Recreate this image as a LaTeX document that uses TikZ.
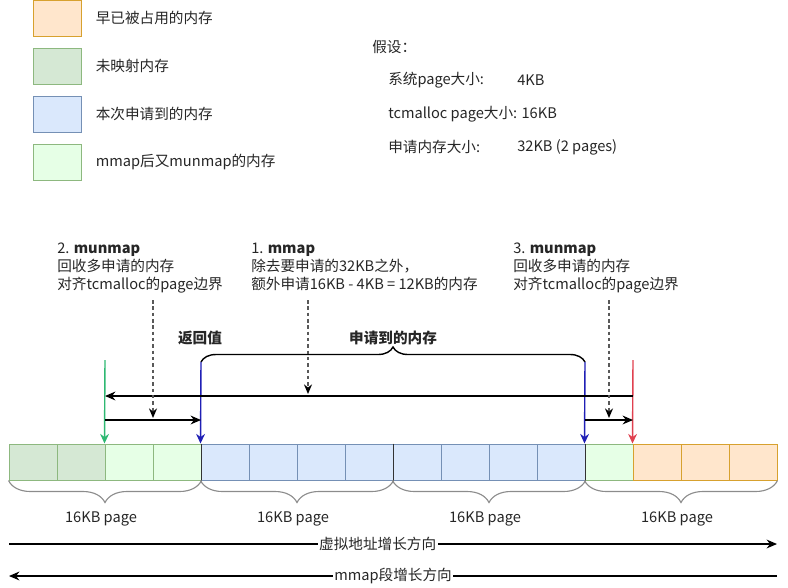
\documentclass[tikz,border=0pt]{standalone}
\usepackage{fontspec}
\setmainfont{Noto Sans CJK SC}
\usetikzlibrary{positioning,arrows.meta,decorations.pathreplacing}
\definecolor{occfill}{HTML}{FFE6CC}
\definecolor{occline}{HTML}{D7A12E}
\definecolor{unmfill}{HTML}{D5E8D4}
\definecolor{unmline}{HTML}{8DB87F}
\definecolor{gotfill}{HTML}{DAE8FC}
\definecolor{gotline}{HTML}{7590B5}
\definecolor{frefill}{HTML}{E6FFE6}
\definecolor{cgreen}{HTML}{2EB872}
\definecolor{cblue}{HTML}{1F1FB5}
\definecolor{cred}{HTML}{E0404F}
\tikzset{
  cell/.style={draw, minimum width=1.2cm, minimum height=0.9cm, inner sep=0pt, line width=0.7pt},
  occupied/.style={cell, fill=occfill, draw=occline},
  unmapped/.style={cell, fill=unmfill, draw=unmline},
  got/.style={cell, fill=gotfill, draw=gotline},
  freed/.style={cell, fill=frefill, draw=unmline},
  txt/.style={font=\fontsize{10.4}{12.6}\selectfont, inner sep=0pt, text=black!85},
  note/.style={txt, align=left, anchor=north west},
  sig/.style={-{Stealth[length=2.6mm,width=2.2mm]}, line width=1pt},
  hint/.style={-{Stealth[length=2.4mm,width=2mm,black]}, draw=black!65, line width=1pt, dash pattern=on 2.5pt off 2pt},
  bound/.style={-{Stealth[length=2.4mm,width=2.2mm]}, line width=1pt},
  pagebrace/.style={decorate, decoration={brace, amplitude=0.55cm}, draw=black!45, line width=0.8pt},
}
\begin{document}
\begin{tikzpicture}[x=0.025cm, y=-0.025cm]
  \useasboundingbox (0,0) rectangle (788,587);

  % legend
  \node[occupied] (lg1) at (57,18) {};
  \node[unmapped] (lg2) at (57,66) {};
  \node[got] (lg3) at (57,114) {};
  \node[freed] (lg4) at (57,162) {};
  \node[txt, right=0.35cm of lg1] {早已被占用的内存};
  \node[txt, right=0.35cm of lg2] {未映射内存};
  \node[txt, right=0.35cm of lg3] {本次申请到的内存};
  \node[txt, right=0.35cm of lg4] {mmap后又munmap的内存};

  % assumptions
  \node[txt, anchor=west] (as0) at (372,47) {假设：};
  \node[txt, anchor=west] (as1) at (388,80) {系统page大小:};
  \node[txt, anchor=west] at (517,80) {4KB};
  \node[txt, anchor=west] (as2) at (388,114) {tcmalloc page大小: 16KB};
  \node[txt, anchor=west] (as3) at (388,147) {申请内存大小:};
  \node[txt, anchor=west] at (517,147) {32KB (2 pages)};

  % memory cells
  \foreach \i/\kind in {0/unmapped,1/unmapped,2/freed,3/freed,4/got,5/got,6/got,7/got,
                        8/got,9/got,10/got,11/got,12/freed,13/occupied,14/occupied,15/occupied}
    \node[\kind] (c\i) at (33+48*\i,462) {};
  \foreach \j in {3,7,11}
    \draw[black!80, line width=0.9pt] (c\j.north east) -- (c\j.south east);

  % 16KB pages
  \foreach \a/\b/\k in {3/0/1,7/4/2,11/8/3,15/12/4}
    \draw[pagebrace] (c\a.south east) -- (c\b.south west);
  \foreach \k/\x in {1/101,2/293,3/485,4/677}
    \node[txt] (pg\k) at (\x,519) {16KB page};

  % steps
  \node[note] (n2) at (57,243) {2. \textbf{munmap}\\回收多申请的内存\\对齐tcmalloc的page边界};
  \node[note] (n1) at (251,243) {1. \textbf{mmap}\\除去要申请的32KB之外，\\额外申请16KB - 4KB = 12KB的内存};
  \node[note] (n3) at (513,243) {3. \textbf{munmap}\\回收多申请的内存\\对齐tcmalloc的page边界};

  \node[txt, font=\fontsize{10.4}{12.6}\selectfont\bfseries] (ret) at (200,338) {返回值};
  \node[txt, font=\fontsize{10.4}{12.6}\selectfont\bfseries] (req) at (393,338) {申请到的内存};

  % boundaries
  \coordinate (gtop) at (105,360);
  \coordinate (bl) at (201,362);
  \coordinate (br) at (585,362);
  \coordinate (rtop) at (633,360);
  \draw[decorate, decoration={brace, amplitude=0.375cm}, line width=1pt] (bl) -- (br);
  \draw[bound, cgreen] (gtop) -- (c2.north west);
  \draw[bound, cblue] (bl) -- (c4.north west);
  \draw[bound, cblue] (br) -- (c12.north west);
  \draw[bound, cred] (rtop) -- (c13.north west);

  % mapped and trimmed ranges
  \coordinate (mr) at (633,396);
  \coordinate (ml) at (105,396);
  \coordinate (t2l) at (105,420);
  \coordinate (t2r) at (201,420);
  \coordinate (t3l) at (585,420);
  \coordinate (t3r) at (633,420);
  \draw[sig] (mr) -- (ml);
  \draw[sig] (t2l) -- (t2r);
  \draw[sig] (t3l) -- (t3r);

  \coordinate (h2a) at (153,300);
  \coordinate (h2b) at (153,418);
  \coordinate (h1a) at (308,300);
  \coordinate (h1b) at (308,394);
  \coordinate (h3a) at (609,300);
  \coordinate (h3b) at (609,418);
  \draw[hint] (h2a) -- (h2b);
  \draw[hint] (h1a) -- (h1b);
  \draw[hint] (h3a) -- (h3b);

  % growth directions
  \coordinate (va0) at (9,544);
  \coordinate (va1) at (777,544);
  \coordinate (ms0) at (777,576);
  \coordinate (ms1) at (9,576);
  \draw[sig] (va0) -- node[txt, fill=white, pos=0.48, inner sep=1pt] (vdir) {虚拟地址增长方向} (va1);
  \draw[sig] (ms0) -- node[txt, fill=white, pos=0.5, inner sep=1pt] (mdir) {mmap段增长方向} (ms1);
\end{tikzpicture}
\end{document}
